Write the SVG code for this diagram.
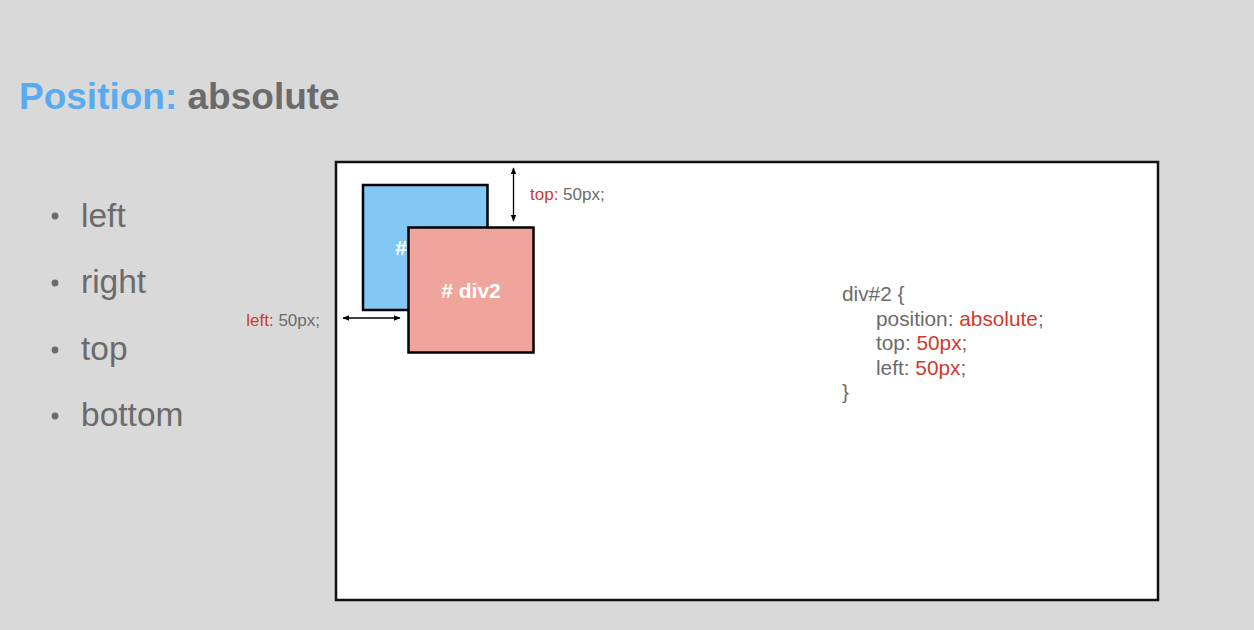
<svg xmlns="http://www.w3.org/2000/svg" width="1254" height="630" viewBox="0 0 1254 630">
<style>
text{font-family:"Liberation Sans",Arial,sans-serif}
.title{font-size:37px;font-weight:bold}
.bul{font-size:33.5px;fill:#6b6b6b}
.dot{fill:#6b6b6b}
.lbl{font-size:17px;fill:#6b6b6b}
.code{font-size:20.8px;fill:#6b6b6b}
.red{fill:#d0392b}
.box{stroke:#000;stroke-width:2.5}
.btxt{font-size:21px;font-weight:bold;fill:#fff}
.arr{stroke:#000;stroke-width:1.3;fill:none}
</style>
<defs>
<marker id="ah" viewBox="0 0 10 10" refX="9" refY="5" markerWidth="7" markerHeight="7" orient="auto-start-reverse" markerUnits="userSpaceOnUse">
<path d="M0,1 L10,5 L0,9 Z" fill="#000"/>
</marker>
</defs>
<rect width="1254" height="630" fill="#d9d9d9"/>
<g id="title">
<text class="title" x="19" y="109"><tspan fill="#58abf0">Position:</tspan><tspan fill="#6b6b6b"> absolute</tspan></text>
</g>
<g id="bullets">
<circle class="dot" cx="55" cy="216" r="3.4"/>
<text class="bul" x="81" y="227">left</text>
<circle class="dot" cx="55" cy="283" r="3.4"/>
<text class="bul" x="81" y="293">right</text>
<circle class="dot" cx="55" cy="350" r="3.4"/>
<text class="bul" x="81" y="360">top</text>
<circle class="dot" cx="55" cy="416" r="3.4"/>
<text class="bul" x="81" y="426">bottom</text>
</g>
<g id="frame">
<rect x="336" y="162" width="822" height="438" fill="#fff" stroke="#111" stroke-width="2.5"/>
</g>
<g id="div1">
<rect class="box" x="363" y="185" width="124.5" height="125" fill="#82c8f6"/>
<text class="btxt" x="425" y="255" text-anchor="middle"># div1</text>
</g>
<g id="div2">
<rect class="box" x="408.5" y="227.5" width="125" height="125" fill="#f0a59c"/>
<text class="btxt" x="471" y="298" text-anchor="middle"># div2</text>
</g>
<g id="connectors">
<line class="arr" x1="513.5" y1="168" x2="513.5" y2="221" marker-start="url(#ah)" marker-end="url(#ah)"/>
<line class="arr" x1="343" y1="318" x2="400" y2="318" marker-start="url(#ah)" marker-end="url(#ah)"/>
</g>
<g id="labels">
<text class="lbl" x="530" y="200"><tspan class="red">top:</tspan> 50px;</text>
<text class="lbl" x="320" y="326" text-anchor="end"><tspan class="red">left:</tspan> 50px;</text>
</g>
<g id="code">
<text class="code" x="842" y="301">div#2 {</text>
<text class="code" x="876" y="325.5">position: <tspan class="red">absolute</tspan>;</text>
<text class="code" x="876" y="350">top: <tspan class="red">50px</tspan>;</text>
<text class="code" x="876" y="374.5">left: <tspan class="red">50px</tspan>;</text>
<text class="code" x="842" y="399">}</text>
</g>
</svg>
